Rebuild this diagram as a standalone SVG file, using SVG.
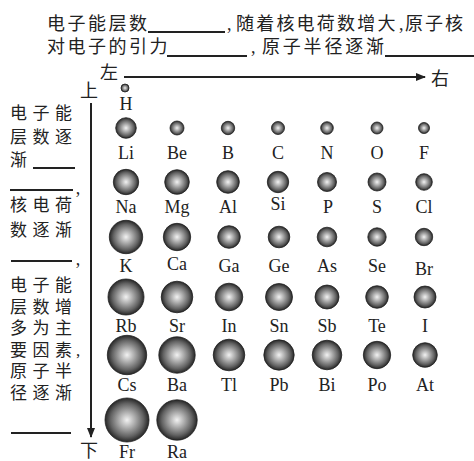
<svg xmlns="http://www.w3.org/2000/svg" width="474" height="461" viewBox="0 0 474 461">
<style>
.cn{font-family:"Liberation Serif","Noto Sans CJK SC","Noto Sans CJK JP",serif;font-size:18px;fill:#222}
.top{font-size:18px;letter-spacing:2.5px}
.side{font-size:17px;letter-spacing:5.5px}
.lb{font-family:"Liberation Serif",serif;font-size:18px;fill:#222;text-anchor:middle}
.ball{fill:url(#ball);stroke:#222;stroke-width:0.8}
.ul{stroke:#222;stroke-width:2}
.ar{stroke:#222;stroke-width:2;fill:none}
</style>
<defs>
<radialGradient id="ball" cx="0.5" cy="0.5" r="0.5">
<stop offset="0" stop-color="#f2f2f2"/>
<stop offset="0.35" stop-color="#b0b0b0"/>
<stop offset="0.75" stop-color="#636363"/>
<stop offset="1" stop-color="#262626"/>
</radialGradient>
<marker id="ah" markerWidth="10" markerHeight="8" refX="9" refY="4" orient="auto" markerUnits="userSpaceOnUse">
<path d="M0,0 L10,4 L0,8 Z" fill="#222"/>
</marker>
</defs>
<rect width="474" height="461" fill="#fff"/>
<g id="question">
<text class="cn top"><tspan x="47" y="30">电子能层数</tspan><tspan x="227" y="30">,</tspan><tspan x="236" y="30" style="letter-spacing:2.2px">随着核电荷数增大</tspan><tspan x="399" y="30">,</tspan><tspan x="405" y="30" style="letter-spacing:2px">原子核</tspan><tspan x="47" y="53">对电子的引力</tspan><tspan x="251" y="53">,</tspan><tspan x="262" y="53" style="letter-spacing:2.8px">原子半径逐渐</tspan></text>
<line class="ul" x1="148" y1="32" x2="225" y2="32"/>
<line class="ul" x1="167" y1="56" x2="247" y2="56"/>
<line class="ul" x1="385" y1="56" x2="474" y2="56"/>
</g>
<g id="left-notes">
<text class="cn side"><tspan x="10" y="119">电子能</tspan><tspan x="10" y="143">层数逐</tspan><tspan x="10" y="166">渐</tspan></text>
<line class="ul" x1="33" y1="168" x2="75" y2="168"/>
<line class="ul" x1="10" y1="190" x2="73" y2="190"/>
<text class="lb" x="78" y="194">,</text>
<text class="cn side"><tspan x="10" y="211">核电荷</tspan><tspan x="10" y="236">数逐渐</tspan></text>
<line class="ul" x1="11" y1="261" x2="72" y2="261"/>
<text class="lb" x="78" y="265">,</text>
<text class="cn side"><tspan x="10" y="291">电子能</tspan><tspan x="10" y="312.5">层数增</tspan><tspan x="10" y="334">多为主</tspan><tspan x="10" y="355.5">要因素</tspan><tspan x="76" y="355.5">,</tspan><tspan x="10" y="377">原子半</tspan><tspan x="10" y="398.5">径逐渐</tspan></text>
<line class="ul" x1="11" y1="433" x2="71" y2="433"/>
</g>
<g id="axis-labels">
<text class="cn" x="100" y="79">左</text>
<text class="cn" x="80" y="97">上</text>
<text class="cn" x="431" y="85">右</text>
<text class="cn" x="80" y="457">下</text>
</g>
<g id="connectors">
<line class="ar" x1="124" y1="77" x2="425" y2="77" marker-end="url(#ah)"/>
<line class="ar" x1="91" y1="103" x2="91" y2="437" marker-end="url(#ah)"/>
</g>
<g id="H"><circle class="ball" cx="125" cy="88" r="4"/><text class="lb" x="126" y="110">H</text></g>
<g id="Li"><circle class="ball" cx="126" cy="128" r="10.3"/><text class="lb" x="126" y="159">Li</text></g>
<g id="Be"><circle class="ball" cx="177" cy="128" r="7"/><text class="lb" x="177" y="159">Be</text></g>
<g id="B"><circle class="ball" cx="228" cy="128" r="6.7"/><text class="lb" x="228" y="159">B</text></g>
<g id="C"><circle class="ball" cx="278" cy="128" r="6.5"/><text class="lb" x="278" y="159">C</text></g>
<g id="N"><circle class="ball" cx="327" cy="128" r="6.3"/><text class="lb" x="327" y="159">N</text></g>
<g id="O"><circle class="ball" cx="377" cy="128" r="6"/><text class="lb" x="377" y="159">O</text></g>
<g id="F"><circle class="ball" cx="424" cy="128" r="5.5"/><text class="lb" x="424" y="159">F</text></g>
<g id="Na"><circle class="ball" cx="126" cy="182" r="12.7"/><text class="lb" x="126" y="213">Na</text></g>
<g id="Mg"><circle class="ball" cx="177" cy="182" r="12.3"/><text class="lb" x="177" y="213">Mg</text></g>
<g id="Al"><circle class="ball" cx="228" cy="182" r="11.3"/><text class="lb" x="228" y="213">Al</text></g>
<g id="Si"><circle class="ball" cx="278" cy="182" r="10.7"/><text class="lb" x="278" y="210">Si</text></g>
<g id="P"><circle class="ball" cx="327" cy="182" r="9.5"/><text class="lb" x="328" y="213">P</text></g>
<g id="S"><circle class="ball" cx="377" cy="182" r="9"/><text class="lb" x="377" y="213">S</text></g>
<g id="Cl"><circle class="ball" cx="424" cy="182" r="8.3"/><text class="lb" x="424" y="213">Cl</text></g>
<g id="K"><circle class="ball" cx="126" cy="237" r="16.7"/><text class="lb" x="126" y="272">K</text></g>
<g id="Ca"><circle class="ball" cx="177" cy="237" r="13.7"/><text class="lb" x="177" y="270">Ca</text></g>
<g id="Ga"><circle class="ball" cx="229" cy="237" r="11.3"/><text class="lb" x="229" y="272">Ga</text></g>
<g id="Ge"><circle class="ball" cx="279" cy="237" r="10.8"/><text class="lb" x="279" y="272">Ge</text></g>
<g id="As"><circle class="ball" cx="327" cy="237" r="9.8"/><text class="lb" x="327" y="272">As</text></g>
<g id="Se"><circle class="ball" cx="377" cy="237" r="9.2"/><text class="lb" x="377" y="272">Se</text></g>
<g id="Br"><circle class="ball" cx="424" cy="237" r="8.7"/><text class="lb" x="424" y="275">Br</text></g>
<g id="Rb"><circle class="ball" cx="126" cy="297" r="18"/><text class="lb" x="126" y="332">Rb</text></g>
<g id="Sr"><circle class="ball" cx="177" cy="297" r="15.8"/><text class="lb" x="177" y="332">Sr</text></g>
<g id="In"><circle class="ball" cx="229" cy="297" r="13.8"/><text class="lb" x="229" y="332">In</text></g>
<g id="Sn"><circle class="ball" cx="279" cy="297" r="13.5"/><text class="lb" x="279" y="332">Sn</text></g>
<g id="Sb"><circle class="ball" cx="327" cy="297" r="12"/><text class="lb" x="327" y="332">Sb</text></g>
<g id="Te"><circle class="ball" cx="377" cy="297" r="11.3"/><text class="lb" x="377" y="332">Te</text></g>
<g id="I"><circle class="ball" cx="425" cy="297" r="11"/><text class="lb" x="425" y="332">I</text></g>
<g id="Cs"><circle class="ball" cx="127" cy="355" r="19.7"/><text class="lb" x="127" y="391">Cs</text></g>
<g id="Ba"><circle class="ball" cx="177" cy="355" r="18.2"/><text class="lb" x="177" y="391">Ba</text></g>
<g id="Tl"><circle class="ball" cx="229" cy="355" r="15.8"/><text class="lb" x="229" y="391">Tl</text></g>
<g id="Pb"><circle class="ball" cx="279" cy="355" r="15.2"/><text class="lb" x="279" y="391">Pb</text></g>
<g id="Bi"><circle class="ball" cx="327" cy="355" r="14.8"/><text class="lb" x="327" y="391">Bi</text></g>
<g id="Po"><circle class="ball" cx="377" cy="355" r="13.7"/><text class="lb" x="377" y="391">Po</text></g>
<g id="At"><circle class="ball" cx="425" cy="355" r="12.3"/><text class="lb" x="425" y="391">At</text></g>
<g id="Fr"><circle class="ball" cx="127" cy="420" r="22"/><text class="lb" x="127" y="458">Fr</text></g>
<g id="Ra"><circle class="ball" cx="177" cy="420" r="20.2"/><text class="lb" x="177" y="458">Ra</text></g>
</svg>
